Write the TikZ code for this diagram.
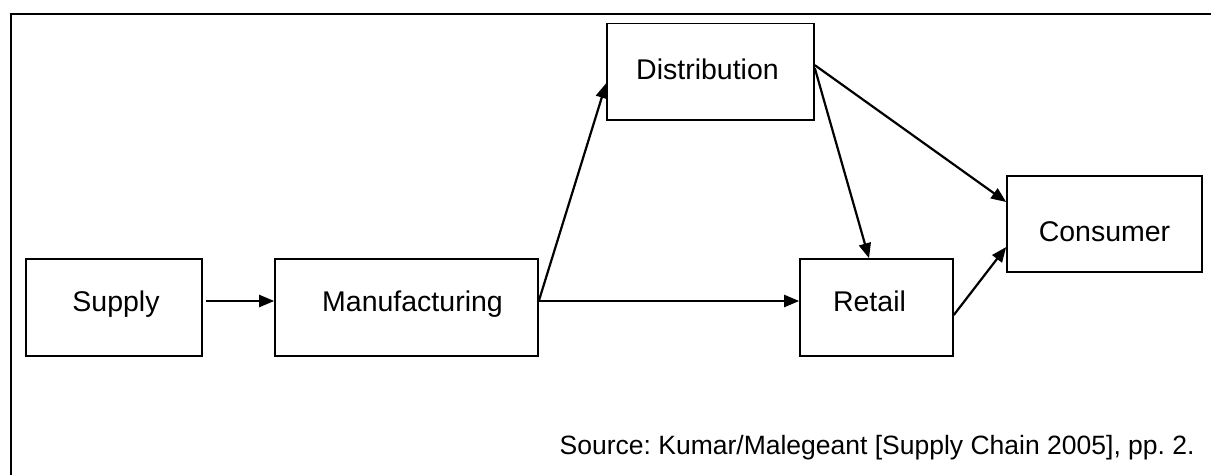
\documentclass[tikz,border=0pt]{standalone}
\usepackage{fontspec}
\setmainfont{Liberation Sans}
\usetikzlibrary{arrows.meta}
\frenchspacing
\begin{document}
\begin{tikzpicture}[x=1pt,y=-1pt,
  box/.style={draw, line width=1.6pt, inner sep=0pt, text height=52pt, text depth=45pt,
    font=\fontsize{28.5}{34}\selectfont},
  conn/.style={line width=2.2pt, -{Triangle[length=15pt,width=12pt]}},
  frameline/.style={line width=2.4pt}]
\useasboundingbox (0,0) rectangle (1211,475);
\draw[frameline] (11,475) -- (11,14) -- (1211,14);
\node[box, minimum width=176pt] (supply) at (114,307.5) {\hspace*{4pt}Supply};
\node[box, minimum width=263pt] (manuf) at (406.5,307.5) {\hspace*{12pt}Manufacturing};
\node[box, minimum width=153pt] (retail) at (876.5,307.5) {Retail\hspace*{14pt}};
\node[box, minimum width=207pt, text height=55.7pt, text depth=41pt] (dist) at (710.5,71.65) {Distribution\hspace*{6pt}};
\node[box, minimum width=195pt, text height=65pt, text depth=31pt] (cons) at (1104.5,224) {Consumer};
\draw[conn, shorten <=3pt] ([yshift=6.5pt]supply.east) -- ([yshift=6.5pt]manuf.west);
\draw[conn] ([yshift=6.5pt]manuf.east) -- ([yshift=6.5pt]retail.west);
\draw[conn] ([yshift=6.5pt]manuf.east) -- ([yshift=-11.5pt]dist.west);
\draw[conn] ([yshift=6.5pt]dist.east) -- ([yshift=22pt]cons.west);
\draw[conn] ([yshift=3.5pt]dist.east) -- ([xshift=-7.5pt]retail.north);
\draw[conn] ([yshift=-7.5pt]retail.east) -- ([yshift=-23pt]cons.west);
\node[anchor=base west, inner sep=0pt, font=\fontsize{26.5}{32}\selectfont] (src) at (559.5,454)
  {Source: Kumar/Malegeant [Supply Chain 2005], pp. 2.};
\end{tikzpicture}
\end{document}
